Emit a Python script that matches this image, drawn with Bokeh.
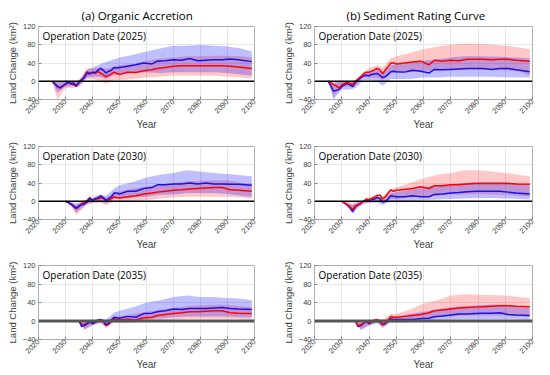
from math import pi
from bokeh.plotting import figure
from bokeh.layouts import column, row
from bokeh.models import FixedTicker, Span, Label
from bokeh.embed import file_html
from bokeh.resources import INLINE

x_ticks = [2020, 2030, 2040, 2050, 2060, 2070, 2080, 2090, 2100]
y_ticks = [-40, 0, 40, 80, 120]
col_titles = ["(a) Organic Accretion", "(b) Sediment Rating Curve"]
op_dates = [2025, 2030, 2035]

late_years = [2050, 2053, 2056, 2059, 2062, 2064, 2067, 2070, 2073, 2076, 2079, 2082, 2085, 2088, 2091, 2094, 2099]

# ---- Operation date 2025 ----
yrs_line_25 = list(range(2025, 2050)) + late_years
yrs_band_25 = [2025, 2027, 2030, 2033, 2035, 2038, 2040, 2043, 2045, 2048, 2050, 2055, 2060, 2065, 2070, 2075, 2080, 2085, 2090, 2095, 2099]

a25_blue = [0, -5, -12, -14, -10, -6, -2, -6, -4, -10, -2, 3, 8, 18, 16, 20, 19, 24, 28, 24, 18, 22, 24, 30, 29,
            30, 33, 36, 40, 38, 44, 45, 47, 46, 50, 45, 46, 47, 47, 49, 47, 43]
a25_red = [0, -6, -10, -15, -10, -7, -3, -4, -8, -11, -3, 3, 10, 21, 17, 19, 17, 21, 18, 14, 10, 13, 16, 20, 17,
           15, 20, 19, 23, 25, 28, 30, 33, 34, 34, 34, 34, 34, 34, 33, 31, 28]
a25_blue_hi = [0, -2, 2, 0, 3, 25, 30, 38, 42, 48, 52, 58, 65, 72, 78, 78, 80, 78, 76, 72, 66]
a25_blue_lo = [0, -25, -12, -10, -10, 8, 10, 10, 5, 14, 15, 18, 20, 18, 20, 20, 20, 20, 18, 15, 12]
a25_red_hi = [0, -3, 0, -2, 2, 28, 28, 30, 28, 32, 35, 38, 45, 50, 52, 55, 55, 56, 56, 55, 52]
a25_red_lo = [0, -40, -15, -15, -12, 5, 5, 0, -5, 3, 2, 5, 8, 10, 12, 12, 12, 12, 10, 8, 6]

b25_red = [0, -3, -8, -10, -15, -8, -5, -2, -5, -7, 0, 5, 10, 16, 20, 20, 22, 25, 28, 25, 16, 25, 32, 40, 40,
           38, 40, 42, 44, 36, 46, 44, 46, 45, 48, 48, 48, 47, 48, 48, 46, 44]
b25_blue = [0, -10, -22, -20, -18, -12, -8, -5, -8, -12, -3, 3, 8, 12, 13, 12, 15, 16, 17, 13, 8, 10, 15, 21, 22,
            21, 20, 24, 22, 18, 26, 25, 26, 27, 28, 28, 28, 26, 28, 28, 25, 21]
b25_red_hi = [0, -2, 2, 0, 3, 20, 28, 35, 30, 50, 55, 62, 70, 76, 80, 82, 82, 80, 78, 74, 70]
b25_blue_hi = [0, -5, 0, -3, 2, 18, 20, 25, 20, 35, 38, 40, 45, 48, 52, 55, 55, 54, 53, 52, 50]
b25_red_lo = [0, -35, -12, -12, -10, 8, 8, 8, 2, 18, 18, 20, 22, 24, 25, 26, 26, 25, 24, 22, 12]
b25_blue_lo = [0, -40, -18, -18, -15, 2, 2, 0, -10, 5, 5, 5, 8, 8, 10, 10, 10, 10, 9, 8, 8]

# ---- Operation date 2030 ----
yrs_line_30 = list(range(2030, 2050)) + late_years
yrs_band_30 = [2030, 2032, 2034, 2036, 2038, 2040, 2043, 2045, 2048, 2050, 2055, 2060, 2065, 2070, 2075, 2080, 2085, 2090, 2095, 2099]

a30_blue = [0, -3, -6, -10, -15, -10, -8, -6, -2, 6, 2, 5, 8, 12, 8, 2, 6, 10, 18, 18,
            16, 22, 22, 28, 30, 36, 36, 38, 38, 40, 38, 40, 38, 38, 37, 37, 35]
a30_red = [0, -3, -7, -12, -16, -12, -5, -3, 2, 8, 2, 6, 5, 8, 6, 1, 3, 6, 10, 8,
           7, 10, 12, 16, 18, 20, 22, 24, 25, 27, 28, 29, 30, 30, 25, 24, 22]
a30_blue_hi = [0, -2, -5, 0, 3, 8, 15, 12, 28, 35, 42, 52, 58, 62, 68, 65, 62, 60, 57, 55]
a30_red_hi = [0, -3, -8, -2, 2, 6, 10, 8, 18, 22, 28, 32, 36, 40, 44, 45, 46, 46, 40, 38]
a30_blue_lo = [0, -8, -25, -15, -5, -2, 0, -5, 5, 5, 8, 10, 14, 15, 18, 18, 18, 16, 12, 10]
a30_red_lo = [0, -10, -30, -18, -8, -5, -3, -8, 0, -3, 0, 3, 6, 8, 10, 10, 10, 10, 8, 6]

b30_red = [0, -4, -8, -12, -18, -10, -8, -5, 0, 5, 3, 6, 9, 12, 14, 5, 10, 18, 25, 22,
           24, 26, 28, 32, 28, 34, 34, 36, 36, 38, 39, 39, 39, 39, 39, 38, 37]
b30_blue = [0, -4, -8, -14, -22, -12, -8, -4, 0, 4, 2, 4, 5, 8, 6, -2, 0, 5, 12, 11,
            10, 10, 12, 10, 10, 15, 16, 18, 19, 21, 22, 22, 22, 22, 20, 18, 16]
b30_red_hi = [0, -2, -5, 0, 3, 8, 15, 10, 25, 30, 40, 50, 58, 62, 68, 68, 65, 62, 58, 55]
b30_blue_hi = [0, -4, -8, -2, 2, 6, 10, 6, 18, 20, 25, 30, 35, 38, 40, 42, 42, 42, 38, 35]
b30_red_lo = [0, -8, -25, -12, -3, -2, 0, -4, 5, 5, 8, 10, 12, 14, 15, 16, 15, 14, 12, 10]
b30_blue_lo = [0, -12, -28, -15, -6, -4, -3, -8, 0, -3, 0, 2, 4, 5, 6, 7, 7, 6, 5, 4]

# ---- Operation date 2035 ----
yrs_line_35 = list(range(2035, 2050)) + late_years
yrs_band_35 = [2035, 2037, 2040, 2043, 2045, 2048, 2050, 2055, 2060, 2065, 2070, 2075, 2080, 2085, 2090, 2095, 2099]

a35_blue = [0, -12, -10, -6, -2, -6, -3, 2, 3, 0, -8, -5, 2, 8, 7,
            6, 10, 8, 16, 17, 20, 22, 26, 25, 27, 27, 27, 28, 29, 27, 26, 25]
a35_red = [0, -8, -7, -5, -2, -4, -2, 1, 2, -1, -10, -7, 0, 5, 3,
           2, 4, 2, 7, 8, 12, 14, 16, 18, 20, 20, 21, 22, 22, 18, 17, 16]
a35_blue_hi = [0, -3, 2, 5, 3, 18, 22, 30, 40, 45, 52, 55, 52, 52, 50, 48, 45]
a35_red_hi = [0, -4, 0, 3, 0, 10, 10, 15, 20, 25, 28, 32, 34, 35, 35, 32, 30]
a35_blue_lo = [0, -18, -8, -3, -12, 0, -2, 0, 3, 6, 8, 10, 10, 10, 10, 8, 8]
a35_red_lo = [0, -20, -10, -5, -15, -3, -5, -3, 0, 2, 4, 5, 5, 5, 5, 4, 3]

b35_red = [0, -10, -8, -4, 0, -4, -2, 2, 3, 0, -8, -4, 2, 10, 8,
           8, 10, 12, 14, 18, 22, 24, 26, 28, 29, 30, 31, 32, 33, 33, 32, 31]
b35_blue = [0, -12, -10, -5, -1, -6, -3, 0, 2, -2, -8, -6, 0, 5, 3,
            3, 3, 3, 5, 6, 9, 11, 13, 15, 15, 16, 17, 17, 18, 14, 13, 12]
b35_red_hi = [0, -3, 2, 5, 3, 15, 15, 25, 38, 45, 55, 58, 57, 56, 55, 52, 50]
b35_blue_hi = [0, -5, 0, 3, 0, 10, 8, 15, 20, 25, 30, 32, 34, 35, 35, 30, 28]
b35_red_lo = [0, -18, -8, -3, -12, 0, 0, 2, 5, 8, 10, 12, 12, 12, 12, 10, 10]
b35_blue_lo = [0, -20, -10, -5, -15, -3, -4, -2, 0, 2, 3, 4, 4, 4, 4, 3, 2]

panels = [
    [(yrs_line_25, yrs_band_25, a25_blue, a25_red, a25_blue_hi, a25_blue_lo, a25_red_hi, a25_red_lo),
     (yrs_line_25, yrs_band_25, b25_blue, b25_red, b25_blue_hi, b25_blue_lo, b25_red_hi, b25_red_lo)],
    [(yrs_line_30, yrs_band_30, a30_blue, a30_red, a30_blue_hi, a30_blue_lo, a30_red_hi, a30_red_lo),
     (yrs_line_30, yrs_band_30, b30_blue, b30_red, b30_blue_hi, b30_blue_lo, b30_red_hi, b30_red_lo)],
    [(yrs_line_35, yrs_band_35, a35_blue, a35_red, a35_blue_hi, a35_blue_lo, a35_red_hi, a35_red_lo),
     (yrs_line_35, yrs_band_35, b35_blue, b35_red, b35_blue_hi, b35_blue_lo, b35_red_hi, b35_red_lo)],
]

row_heights = [132, 120, 121]
row_tops = [26, 14, 13]
row_bottoms = [31, 31, 34]
col_widths = [275, 274]
col_lefts = [38, 39]
col_rights = [21, 17]
title_offsets = [43, 32]

rows = []
for r in range(3):
    figs = []
    for c in range(2):
        yl, yb, blue, red, bhi, blo, rhi, rlo = panels[r][c]
        p = figure(width=col_widths[c], height=row_heights[r],
                   x_range=(2020, 2100), y_range=(-40, 120),
                   output_backend="svg", toolbar_location=None,
                   min_border_left=col_lefts[c], min_border_right=col_rights[c],
                   min_border_top=row_tops[r], min_border_bottom=row_bottoms[r])
        if r == 0:
            p.title.text = col_titles[c]
            p.title.align = "left"
            p.title.offset = title_offsets[c]
            p.title.text_font = "Open Sans"
            p.title.text_font_size = "11.5px"
            p.title.text_font_style = "normal"
            p.title.text_color = "#000000"
            p.title.standoff = 7
        p.background_fill_color = "white"
        p.border_fill_color = "white"
        p.outline_line_color = "#b0b0b0"
        p.outline_line_width = 1
        p.xaxis.ticker = FixedTicker(ticks=x_ticks)
        p.yaxis.ticker = FixedTicker(ticks=y_ticks)
        p.xgrid.ticker = FixedTicker(ticks=x_ticks)
        p.ygrid.ticker = FixedTicker(ticks=y_ticks)
        p.grid.grid_line_color = "#e6e6e6"
        p.grid.grid_line_width = 1
        for ax in (p.xaxis, p.yaxis):
            ax.axis_line_color = None
            ax.major_tick_in = 3
            ax.major_tick_out = 0
            ax.major_tick_line_color = "#888888"
            ax.minor_tick_line_color = None
            ax.major_label_text_font = "Liberation Sans"
            ax.major_label_text_font_size = "7.5px"
            ax.major_label_text_color = "#404040"
            ax.axis_label_text_font = "Liberation Sans"
            ax.axis_label_text_font_style = "normal"
            ax.axis_label_text_color = "#404040"
        p.xaxis.major_label_orientation = pi / 4
        p.xaxis.axis_label = "Year"
        p.xaxis.axis_label_text_font_size = "10px"
        p.xaxis.major_label_standoff = 1
        p.xaxis.axis_label_standoff = 0
        p.yaxis.axis_label = "Land Change (km²)"
        p.yaxis.axis_label_text_font_size = "9.5px"
        p.yaxis.major_label_standoff = 3
        p.yaxis.axis_label_standoff = 2

        p.varea(x=yb, y1=rlo, y2=rhi, fill_color="#ff0000", fill_alpha=0.22)
        p.varea(x=yb, y1=blo, y2=bhi, fill_color="#0000ff", fill_alpha=0.25)
        if r == 2:
            p.add_layout(Span(location=0, dimension="width", line_color="#555555", line_width=3))
        else:
            p.add_layout(Span(location=0, dimension="width", line_color="#000000", line_width=1.5))
        if c == 0:
            p.line(yl, red, line_color="#ff0000", line_width=1.5)
            p.line(yl, blue, line_color="#1a12e0", line_width=1.5)
        else:
            p.line(yl, blue, line_color="#1a12e0", line_width=1.5)
            p.line(yl, red, line_color="#ff0000", line_width=1.5)
        p.add_layout(Label(x=2021.5, y=100, text="Operation Date (%d)" % op_dates[r],
                           text_font="Open Sans", text_font_size="10px",
                           text_baseline="middle", text_color="#000000"))
        figs.append(p)
    rows.append(row(*figs))

layout = column(*rows)
open("out.html", "w").write(file_html(layout, INLINE))
